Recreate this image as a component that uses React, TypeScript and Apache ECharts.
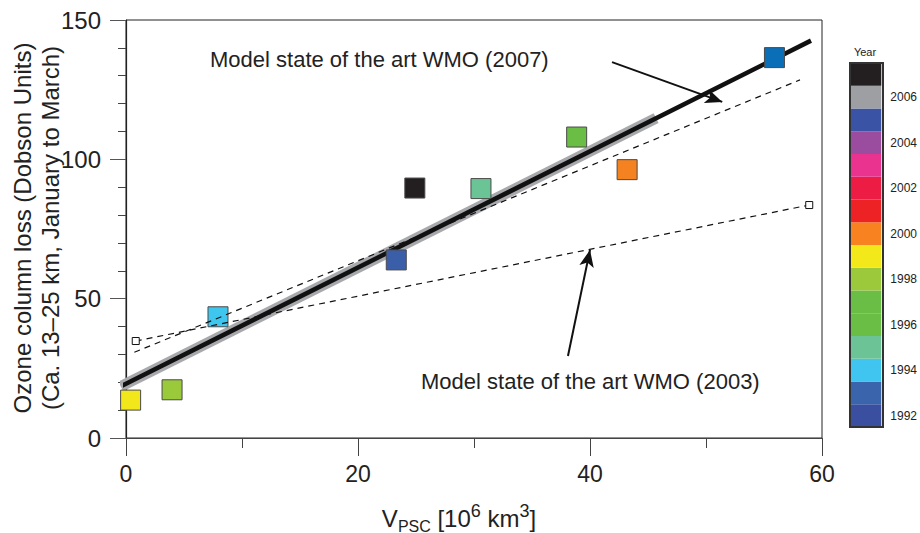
import React, { useEffect, useRef } from 'react';
import * as echarts from 'echarts';

// ---- data ----
const vpsc = [0.4, 3.97, 7.93, 23.3, 24.9, 30.6, 38.85, 43.2, 55.9];
const ozoneLoss = [13.6, 17.3, 43.5, 63.9, 89.7, 89.5, 108.0, 96.3, 136.5];
const pointColors = ['#f2e71b', '#9bc93c', '#3fc6ef', '#3b5ea9', '#231f20', '#6bc495', '#6abd45', '#f58220', '#0b6fb8'];

const fitX = [-0.37, 59.05];
const fitY = [18.7, 142.6];
const bandX = [-0.45, 45.7];
const bandY = [18.5, 114.8];

const wmo2007X = [0.72, 58.1];
const wmo2007Y = [30.75, 128.5];
const wmo2003X = [0.84, 58.9];
const wmo2003Y = [34.8, 83.6];

const arrow2007 = [[41.9, 134.9], [51.4, 120.6]];
const arrow2003 = [[38.1, 29.4], [40.0, 67.5]];

const years = ['1992', '1993', '1994', '1995', '1996', '1997', '1998', '1999', '2000', '2001', '2002', '2003', '2004', '2005', '2006', '2007'];
const yearColors = ['#3a4fa0', '#3a64ac', '#3fc5f0', '#6cc395', '#6abd45', '#6abd45', '#9cc93b', '#f2e81a', '#f7821f', '#ed2224', '#ec1c45', '#e9338f', '#9a4d9e', '#3a53a4', '#9d9fa2', '#231f20'];

const xTicks = { min: 0, max: 60, interval: 20 };
const yTicks = { min: 0, max: 150, interval: 50 };

const FONT = '"Liberation Sans", Arial, Helvetica, sans-serif';

const pairs = (xs: number[], ys: number[]) => xs.map((x, i) => [x, ys[i]]);

export default function App() {
  const ref = useRef<HTMLDivElement>(null);
  useEffect(() => {
    const chart = echarts.init(ref.current!, null, { renderer: 'svg' });
    const option: any = {
      animation: false,
      backgroundColor: '#fff',
      textStyle: { fontFamily: FONT },
      grid: [
        { left: 126, right: 98, top: 20, bottom: 95, show: true, borderColor: '#222', borderWidth: 1, backgroundColor: 'transparent' },
        { left: 850, top: 63, width: 33, height: 364 },
      ],
      xAxis: [
        {
          type: 'value', gridIndex: 0, ...xTicks,
          axisLine: { show: true, onZero: false, lineStyle: { color: '#444', width: 1.2 } },
          axisTick: { show: true, length: 18, lineStyle: { color: '#444', width: 1 } },
          minorTick: { show: true, splitNumber: 2, length: 10, lineStyle: { color: '#444', width: 1 } },
          splitLine: { show: false },
          axisLabel: { fontSize: 23, color: '#222', margin: 24, fontFamily: FONT },
        },
        { type: 'value', gridIndex: 1, min: 0, max: 1, show: false },
      ],
      yAxis: [
        {
          type: 'value', gridIndex: 0, ...yTicks,
          axisLine: { show: true, onZero: false, lineStyle: { color: '#222', width: 1.2 } },
          axisTick: { show: true, length: 16, lineStyle: { color: '#555', width: 1 } },
          minorTick: { show: true, splitNumber: 5, length: 8, lineStyle: { color: '#444', width: 1 } },
          splitLine: { show: false },
          axisLabel: { fontSize: 24, color: '#222', margin: 25, fontFamily: FONT },
        },
        {
          type: 'category', gridIndex: 1, data: years, position: 'right',
          axisLine: { show: false },
          axisTick: { show: true, alignWithLabel: true, interval: 0, length: 7, lineStyle: { color: '#333' } },
          axisLabel: {
            interval: (_i: number, v: string) => Number(v) % 2 === 0,
            fontSize: 12, color: '#222', margin: 9, fontFamily: FONT,
          },
        },
      ],
      series: [
        {
          type: 'line', name: 'band', data: pairs(bandX, bandY), symbol: 'none', clip: false, z: 2,
          lineStyle: { color: '#a7a9ac', width: 11, cap: 'butt' }, silent: true,
        },
        {
          type: 'line', name: 'fit', data: pairs(fitX, fitY), symbol: 'none', clip: false, z: 3,
          lineStyle: { color: '#111', width: 4.5, cap: 'butt' }, silent: true,
        },
        {
          type: 'scatter', name: 'obs', z: 4, symbol: 'rect', symbolSize: 20, silent: true,
          data: vpsc.map((x, i) => ({ value: [x, ozoneLoss[i]], itemStyle: { color: pointColors[i], borderColor: '#4a4a4a', borderWidth: 1, opacity: 1 } })),
        },
        {
          type: 'line', name: 'WMO 2007', data: pairs(wmo2007X, wmo2007Y), symbol: 'none', z: 5,
          lineStyle: { color: '#111', width: 1.2, type: [6, 5] }, silent: true,
          markLine: {
            silent: true, symbol: ['none', 'arrow'], symbolSize: [11, 17], precision: 3,
            label: { show: false }, lineStyle: { color: '#111', width: 2, type: 'solid' },
            emphasis: { disabled: true },
            data: [
              [{ coord: arrow2007[0] }, { coord: arrow2007[1] }],
              [{ coord: arrow2003[0] }, { coord: arrow2003[1] }],
            ],
          },
        },
        {
          type: 'line', name: 'WMO 2003', data: pairs(wmo2003X, wmo2003Y), symbol: 'rect', symbolSize: 7, showSymbol: true, z: 5,
          lineStyle: { color: '#111', width: 1.2, type: [6, 5] },
          itemStyle: { color: '#fff', borderColor: '#111', borderWidth: 1 }, silent: true,
        },
        {
          type: 'bar', name: 'colorbar', xAxisIndex: 1, yAxisIndex: 1, barCategoryGap: '0%', silent: true,
          data: yearColors.map((c) => ({ value: 1, itemStyle: { color: c } })),
        },
      ],
      graphic: [
        {
          type: 'rect', z: 100, shape: { x: 850, y: 63, width: 33, height: 364 },
          style: { fill: 'none', stroke: '#333', lineWidth: 2 },
        },
        {
          type: 'text', x: 865, y: 52,
          style: { text: 'Year', fontSize: 11, fill: '#222', align: 'center', verticalAlign: 'middle', fontFamily: FONT },
        },
        {
          type: 'text', x: 210, y: 59,
          style: { text: 'Model state of the art WMO (2007)', fontSize: 22, fill: '#222', align: 'left', verticalAlign: 'middle', fontFamily: FONT },
        },
        {
          type: 'text', x: 421, y: 381,
          style: { text: 'Model state of the art WMO (2003)', fontSize: 22, fill: '#222', align: 'left', verticalAlign: 'middle', fontFamily: FONT },
        },
        {
          type: 'text', x: 36, y: 228, rotation: Math.PI / 2,
          style: {
            text: 'Ozone column loss (Dobson Units)\n(Ca. 13–25 km, January to March)',
            fontSize: 24, lineHeight: 28, fill: '#222', align: 'center', verticalAlign: 'middle', fontFamily: FONT,
          },
        },
        {
          type: 'text', x: 459, y: 518,
          style: {
            text: '{v|V}{sub|PSC}{v| [10}{sup|6}{v| km}{sup|3}{v|]}',
            align: 'center', verticalAlign: 'middle', fill: '#222', fontFamily: FONT,
            rich: {
              v: { fontSize: 24, lineHeight: 32, fill: '#222', fontFamily: FONT },
              sub: { fontSize: 16, lineHeight: 20, verticalAlign: 'bottom', fill: '#222', fontFamily: FONT },
              sup: { fontSize: 18, lineHeight: 22, verticalAlign: 'top', fill: '#222', fontFamily: FONT },
            },
          },
        },
      ],
    };
    chart.setOption(option);
    return () => chart.dispose();
  }, []);
  return <div ref={ref} style={{ position: 'fixed', left: 0, top: 0, width: 920, height: 533, background: '#fff' }} />;
}
